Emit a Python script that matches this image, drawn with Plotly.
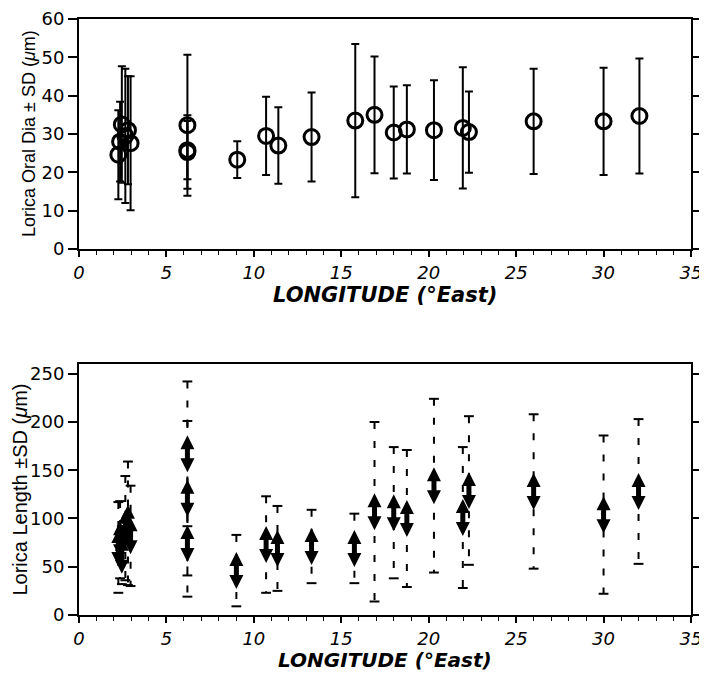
import plotly.graph_objects as go

# ---------------- data ----------------
# upper panel: lorica oral diameter (mean, SD) vs longitude
lon_dia = [2.25, 2.35, 2.45, 2.65, 2.8, 2.95, 6.2, 6.2, 6.2, 9.05, 10.7, 11.4,
           13.3, 15.8, 16.9, 18.0, 18.75, 20.3, 21.95, 22.3, 26.0, 30.0, 32.05]
dia_mean = [24.6, 28.0, 32.5, 29.5, 31.0, 27.6, 32.3, 25.3, 25.8, 23.3, 29.5, 27.0,
            29.2, 33.5, 35.0, 30.4, 31.2, 31.0, 31.6, 30.5, 33.3, 33.3, 34.7]
dia_sd = [11.6, 10.4, 15.2, 17.5, 14.1, 17.5, 18.4, 9.6, 7.6, 4.8, 10.2, 10.0,
          11.6, 20.0, 15.2, 12.0, 11.5, 13.0, 15.8, 10.6, 13.7, 14.0, 15.0]

# lower panel: lorica length (mean, SD) vs longitude
lon_len = [2.25, 2.35, 2.45, 2.65, 2.8, 2.95, 6.2, 6.2, 6.2, 9.0, 10.7, 11.35,
           13.3, 15.75, 16.9, 18.0, 18.75, 20.3, 21.95, 22.3, 26.0, 30.0, 32.0]
len_mean = [70, 78, 62, 90, 95, 82, 167, 121, 74, 46, 73, 69,
            71, 69, 107, 106, 100, 134, 101, 129, 128, 104, 128]
len_sd = [47, 40, 30, 54, 64, 52, 75, 80, 55, 37, 50, 44,
          38, 36, 93, 68, 71, 90, 73, 77, 80, 82, 75]

x_ticks = [0, 5, 10, 15, 20, 25, 30, 35]
dia_ticks = [0, 10, 20, 30, 40, 50, 60]
len_ticks = [0, 50, 100, 150, 200, 250]

X_TITLE = "LONGITUDE (°East)"
DIA_TITLE = "Lorica Oral Dia ± SD (<i>μ</i>m)"
LEN_TITLE = "Lorica Length ±SD (<i>μ</i>m)"

# ---------------- layout constants ----------------
# the page body has an 8 px margin, so the figure is 8 px smaller than the window
W, H = 699, 665
M = dict(l=71, r=16, t=11, b=58)
TOP_DOM = [0.614, 1.0]
BOT_DOM = [0.0, 0.421]
LEN_RANGE = [0, 260]

plot_h = H - M["t"] - M["b"]
bot_px_per_unit = plot_h * (BOT_DOM[1] - BOT_DOM[0]) / (LEN_RANGE[1] - LEN_RANGE[0])

ARR = 14                 # arrow-head marker size (px): tip at the marker position
SHAFT_HALF = 4.5         # half length of the arrow shaft (px)
tip_off = (SHAFT_HALF + ARR) / bot_px_per_unit  # data-unit offset of the arrow tips

FONT = "Liberation Sans, Arial, Helvetica, sans-serif"
TICKFONT = "DejaVu Sans, Liberation Sans, sans-serif"

fig = go.Figure()

# ---------------- upper panel ----------------
fig.add_trace(go.Scatter(
    x=lon_dia, y=dia_mean, mode="markers",
    marker=dict(symbol="circle-open", size=15, color="black", line=dict(width=3, color="black")),
    error_y=dict(type="data", array=dia_sd, visible=True, color="black", thickness=2, width=4),
    xaxis="x", yaxis="y", showlegend=False,
))

# ---------------- lower panel ----------------
ex, ey = [], []
for xv, m, s in zip(lon_len, len_mean, len_sd):
    ex += [xv, xv, None]
    ey += [m + s, m - s, None]
fig.add_trace(go.Scatter(
    x=ex, y=ey, mode="lines",
    line=dict(color="black", width=2, dash="7px,12px"),
    xaxis="x2", yaxis="y2", showlegend=False, hoverinfo="skip",
))
cap_x = list(lon_len) + list(lon_len)
cap_y = [m + s for m, s in zip(len_mean, len_sd)] + [m - s for m, s in zip(len_mean, len_sd)]
fig.add_trace(go.Scatter(
    x=cap_x, y=cap_y, mode="markers",
    marker=dict(symbol="line-ew-open", size=7, color="black", line=dict(width=2, color="black")),
    xaxis="x2", yaxis="y2", showlegend=False, hoverinfo="skip",
))
# double arrow marker: shaft + up arrow head + down arrow head
fig.add_trace(go.Scatter(
    x=lon_len, y=len_mean, mode="markers",
    marker=dict(symbol="line-ns-open", size=2 * SHAFT_HALF + 4, color="black",
                line=dict(width=5, color="black")),
    xaxis="x2", yaxis="y2", showlegend=False,
))
fig.add_trace(go.Scatter(
    x=lon_len, y=[m + tip_off for m in len_mean], mode="markers",
    marker=dict(symbol="arrow-up", size=ARR, color="black", line=dict(width=0)),
    xaxis="x2", yaxis="y2", showlegend=False, hoverinfo="skip",
))
fig.add_trace(go.Scatter(
    x=lon_len, y=[m - tip_off for m in len_mean], mode="markers",
    marker=dict(symbol="arrow-down", size=ARR, color="black", line=dict(width=0)),
    xaxis="x2", yaxis="y2", showlegend=False, hoverinfo="skip",
))

# ---------------- axes ----------------
def xax(anchor):
    return dict(
        anchor=anchor, domain=[0, 1], range=[0, 35], automargin=False,
        tickvals=x_ticks, ticktext=[str(v) for v in x_ticks], ticklabeloverflow="allow",
        showline=True, linecolor="black", linewidth=2, mirror=True,
        ticks="outside", ticklen=6, tickwidth=1.5, tickcolor="black",
        minor=dict(dtick=1, tick0=0, ticks="outside", ticklen=4, tickwidth=1, tickcolor="black", showgrid=False),
        showgrid=False, zeroline=False,
        tickfont=dict(family=TICKFONT, size=18, color="black", style="italic"),
    )

def yax(anchor, dom, rng, ticks):
    return dict(
        anchor=anchor, domain=dom, range=rng, automargin=False,
        tickvals=ticks, ticktext=[str(v) for v in ticks], ticklabeloverflow="allow",
        showline=True, linecolor="black", linewidth=2, mirror="ticks",
        ticks="outside", ticklen=9, tickwidth=1.5, tickcolor="black",
        showgrid=False, zeroline=False,
        tickfont=dict(family=TICKFONT, size=18, color="black"),
    )

xt_font = dict(family=TICKFONT, size=21, color="black", weight="bold", style="italic")
xb_font = dict(family=TICKFONT, size=20, color="black", weight="bold", style="italic")
annotations = [
    dict(text=X_TITLE, xref="paper", yref="paper", x=0.5, y=TOP_DOM[0], xanchor="center",
         yanchor="middle", yshift=-46, showarrow=False, font=xt_font),
    dict(text=X_TITLE, xref="paper", yref="paper", x=0.5, y=BOT_DOM[0], xanchor="center",
         yanchor="middle", yshift=-45, showarrow=False, font=xb_font),
    dict(text=DIA_TITLE, xref="paper", yref="paper", x=0, y=sum(TOP_DOM) / 2, xanchor="center",
         yanchor="middle", xshift=-50, textangle=-90, showarrow=False,
         font=dict(family=FONT, size=18, color="black")),
    dict(text=LEN_TITLE, xref="paper", yref="paper", x=0, y=sum(BOT_DOM) / 2, xanchor="center",
         yanchor="middle", xshift=-59, textangle=-90, showarrow=False,
         font=dict(family=FONT, size=20, color="black")),
]

fig.update_layout(
    width=W, height=H, margin=M,
    paper_bgcolor="white", plot_bgcolor="white",
    xaxis=xax("y"),
    yaxis=yax("x", TOP_DOM, [0, 60], dia_ticks),
    xaxis2=xax("y2"),
    yaxis2=yax("x2", BOT_DOM, LEN_RANGE, len_ticks),
    annotations=annotations,
    showlegend=False,
)

fig.write_html("out.html")
